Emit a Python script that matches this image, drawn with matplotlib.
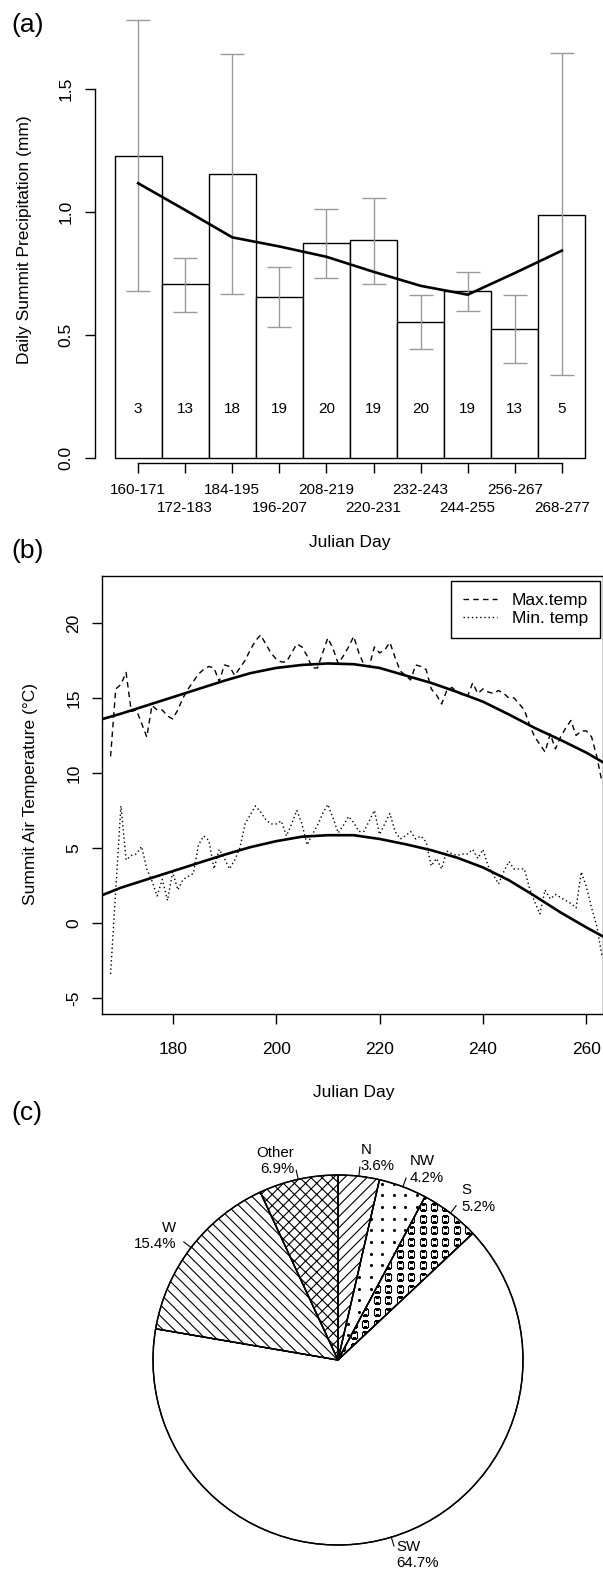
import numpy as np
import matplotlib
matplotlib.use("Agg")
import matplotlib.pyplot as plt
import matplotlib.patches as mpatches
from matplotlib.lines import Line2D
from matplotlib import font_manager

plt.rcParams["font.family"] = ["Liberation Sans", "DejaVu Sans"]
plt.rcParams["hatch.linewidth"] = 0.8

_names = {f.name for f in font_manager.fontManager.ttflist}
NARROW = "Liberation Sans Narrow" if "Liberation Sans Narrow" in _names else "Liberation Sans"

# ---- (a) daily summit precipitation per 12-day window
windows = ["160-171", "172-183", "184-195", "196-207", "208-219",
           "220-231", "232-243", "244-255", "256-267", "268-277"]
precip_mean = [1.229, 0.706, 1.154, 0.654, 0.874, 0.885, 0.552, 0.678, 0.524, 0.988]
precip_hi = [1.78, 0.814, 1.642, 0.778, 1.012, 1.057, 0.664, 0.757, 0.664, 1.645]
precip_lo = [0.679, 0.595, 0.668, 0.534, 0.733, 0.709, 0.442, 0.599, 0.387, 0.337]
precip_trend = [1.117, 1.008, 0.897, 0.860, 0.818, 0.757, 0.700, 0.664, 0.752, 0.843]
n_days = [3, 13, 18, 19, 20, 19, 20, 19, 13, 5]

# ---- (b) daily summit air temperature, days 168..263
days = list(range(168, 264))
max_temp = [11.1, 15.6, 15.9, 16.7, 14.1, 14.2, 13.3, 12.4, 14.5, 14.2,
            14.2, 13.8, 13.6, 14.2, 15.0, 15.6, 16.1, 16.6, 16.9, 17.1,
            17.0, 16.1, 17.2, 17.1, 16.5, 17.0, 17.5, 18.2, 18.8, 19.2,
            18.6, 18.0, 17.6, 17.4, 17.4, 18.0, 18.6, 18.4, 17.8, 17.0,
            17.0, 18.0, 19.0, 18.3, 17.3, 17.8, 18.4, 19.1, 18.0, 17.2,
            17.1, 18.4, 18.0, 18.2, 18.7, 17.7, 16.8, 16.5, 16.2, 17.2,
            17.1, 16.9, 15.6, 15.2, 14.6, 15.5, 15.7, 15.4, 15.2, 15.1,
            16.0, 15.3, 15.6, 15.4, 15.3, 15.5, 15.3, 15.0, 15.0, 14.6,
            14.2, 13.2, 12.4, 11.9, 11.4, 12.6, 11.6, 12.4, 13.0, 13.5,
            12.5, 12.8, 12.8, 12.4, 11.1, 9.4]
min_temp = [-3.4, 2.2, 7.8, 4.2, 4.5, 4.6, 5.1, 3.6, 2.8, 1.8,
            2.9, 1.5, 3.4, 2.2, 2.9, 3.1, 3.3, 5.2, 5.8, 5.5,
            3.6, 4.9, 4.3, 3.6, 4.2, 5.0, 6.6, 7.2, 7.8, 7.4,
            6.9, 6.6, 6.6, 6.8, 5.8, 6.6, 7.5, 6.6, 5.2, 5.9,
            6.5, 7.3, 7.9, 7.0, 6.0, 6.5, 7.1, 6.7, 6.1, 6.1,
            6.8, 7.5, 5.9, 6.6, 7.3, 6.1, 5.6, 5.8, 6.1, 5.6,
            5.8, 5.4, 3.8, 4.3, 3.6, 4.8, 4.6, 4.5, 4.6, 4.6,
            4.9, 4.3, 4.9, 3.8, 3.2, 2.6, 3.4, 4.1, 3.6, 3.6,
            3.6, 2.3, 1.4, 0.6, 2.2, 1.6, 1.9, 1.7, 1.5, 1.3,
            1.0, 3.4, 2.4, 1.0, -0.2, -2.2]

# smooth seasonal curves
fit_days = [166, 170, 175, 180, 185, 190, 195, 200, 205, 210, 215,
            220, 225, 230, 235, 240, 245, 250, 255, 260, 264]
max_fit = [13.55, 13.95, 14.5, 15.05, 15.6, 16.15, 16.65, 17.0, 17.2, 17.3, 17.25,
           17.0, 16.5, 16.0, 15.4, 14.75, 13.9, 13.0, 12.2, 11.35, 10.55]
min_fit = [1.8, 2.35, 2.9, 3.45, 4.0, 4.55, 5.05, 5.45, 5.75, 5.85, 5.85,
           5.6, 5.25, 4.85, 4.35, 3.7, 2.85, 1.8, 0.7, -0.3, -1.05]

# ---- (c) wind direction frequency
directions = ["N", "NW", "S", "SW", "W", "Other"]
shares = [3.6, 4.2, 5.2, 64.7, 15.4, 6.9]
hatches = ["///", None, None, None, "\\\\\\", "xxx"]

W, H = 603, 1585
fig = plt.figure(figsize=(W / 100, H / 100), dpi=100)


def rect(left, top, right, bottom):
    return [left / W, 1 - bottom / H, (right - left) / W, (bottom - top) / H]


def ftext(px, py, s, **kw):
    fig.text(px / W, 1 - py / H, s, ha="center", va="center", **kw)


# ================= (a)
ax1 = fig.add_axes(rect(95.4, 10.3, 603, 462.7))
x = np.arange(len(windows))
mean = np.array(precip_mean)
ax1.bar(x, mean, width=1.0, color="white", edgecolor="black", linewidth=1.0, zorder=2)
ax1.errorbar(x, mean, yerr=[mean - np.array(precip_lo), np.array(precip_hi) - mean],
             fmt="none", ecolor="#9a9a9a", elinewidth=1.0, capsize=8.3, capthick=1.0, zorder=3)
ax1.plot(x, precip_trend, color="black", lw=1.9, zorder=4)
for xi, n in zip(x, n_days):
    ax1.text(xi, 0.2, str(n), ha="center", va="center", fontsize=11)

ax1.set_xlim(-0.908, 9.874)
ax1.set_ylim(-0.019, 1.82)
for s in ["top", "right"]:
    ax1.spines[s].set_visible(False)
ax1.spines["left"].set_bounds(0, 1.5)
ax1.spines["bottom"].set_bounds(0, len(windows) - 1)
for s in ["left", "bottom"]:
    ax1.spines[s].set_linewidth(1.0)
ax1.set_yticks([0, 0.5, 1.0, 1.5])
ax1.set_yticklabels(["0.0", "0.5", "1.0", "1.5"], rotation=90, va="center")
# alternate labels on two rows
ax1.set_xticks(x[::2])
ax1.set_xticklabels(windows[::2], family=NARROW, fontsize=11)
ax1.set_xticks(x[1::2], minor=True)
ax1.set_xticklabels(windows[1::2], minor=True, family=NARROW, fontsize=11)
ax1.tick_params(axis="y", length=7.5, width=1.0, pad=8.3, labelsize=12.5)
ax1.tick_params(axis="x", which="both", length=7.5, width=1.0)
ax1.tick_params(axis="x", which="major", pad=7)
ax1.tick_params(axis="x", which="minor", pad=20)

ftext(350, 542, "Julian Day", fontsize=12.5)
ftext(25, 240, "Daily Summit Precipitation (mm)", rotation=90, fontsize=12.5)
ftext(28, 25, "(a)", fontsize=19)

# ================= (b)
ax2 = fig.add_axes(rect(102.3, 575.7, 603, 1014))
ax2.plot(days, max_temp, color="black", lw=1.0, dashes=(4, 3))
ax2.plot(days, min_temp, color="black", lw=1.0, dashes=(1, 2))
ax2.plot(fit_days, max_fit, color="black", lw=1.9)
ax2.plot(fit_days, min_fit, color="black", lw=1.9)
ax2.set_xlim(166.4, 263.2)
ax2.set_ylim(-6.07, 23.15)
ax2.set_xticks([180, 200, 220, 240, 260])
ax2.set_yticks([-5, 0, 5, 10, 15, 20])
ax2.set_yticklabels(["-5", "0", "5", "10", "15", "20"], rotation=90, va="center")
ax2.tick_params(axis="y", length=7.5, width=1.0, pad=7.5, labelsize=12.5)
ax2.tick_params(axis="x", length=7.5, width=1.0, pad=13, labelsize=12.5)
for s in ax2.spines.values():
    s.set_linewidth(1.0)

handles = [Line2D([], [], color="black", lw=1.0, dashes=(4, 3)),
           Line2D([], [], color="black", lw=1.0, dashes=(1, 2))]
leg = ax2.legend(handles, ["Max.temp", "Min. temp"], loc="upper right",
                 bbox_to_anchor=(600 / W, 1 - 581 / H), bbox_transform=fig.transFigure,
                 fancybox=False, edgecolor="black", framealpha=1, fontsize=12.5,
                 handlelength=1.95, handletextpad=0.84, labelspacing=0.15,
                 borderpad=0.7, borderaxespad=0)
leg.get_frame().set_linewidth(1.0)

ftext(354, 1093, "Julian Day", fontsize=12.5)
ftext(31, 794, "Summit Air Temperature (\u00b0C)", rotation=90, fontsize=12.5)
ftext(28, 551, "(b)", fontsize=19)

# ================= (c)
ax3 = fig.add_axes(rect(116, 1138, 560, 1582))
labels = [f"{d}\n{s:.1f}%" for d, s in zip(directions, shares)]
wedges, texts = ax3.pie(shares, labels=labels, startangle=90, counterclock=False,
                        labeldistance=1.1,
                        wedgeprops=dict(facecolor="white", edgecolor="black", linewidth=1.0),
                        textprops=dict(fontsize=10.8))
for w, h in zip(wedges, hatches):
    if h:
        w.set_hatch(h)

# dotted texture for NW, open squares for S
gx, gy = np.meshgrid(np.arange(-1.0, 1.0, 0.062), np.arange(-1.0, 1.0, 0.063))
dots = ax3.scatter(gx.ravel(), gy.ravel(), s=5, color="black", linewidths=0, zorder=2)
dots.set_clip_path(wedges[directions.index("NW")])
sq = ax3.scatter(gx.ravel() + 0.031, gy.ravel(), s=21, marker="s", facecolors="white",
                 edgecolors="black", linewidths=0.8, zorder=2)
sq.set_clip_path(wedges[directions.index("S")])

for w in wedges:
    ax3.add_patch(mpatches.Wedge(w.center, w.r, w.theta1, w.theta2, fill=False,
                                 edgecolor="black", linewidth=1.0, zorder=3))
    ang = np.deg2rad((w.theta1 + w.theta2) / 2)
    ax3.plot([np.cos(ang), 1.05 * np.cos(ang)], [np.sin(ang), 1.05 * np.sin(ang)],
             color="black", lw=0.8)

ax3.set_xlim(-1.2, 1.2)
ax3.set_ylim(-1.2, 1.2)
ax3.set_aspect("equal")
ax3.axis("off")

ftext(27, 1113, "(c)", fontsize=19)

fig.savefig("out.png", dpi=100)
